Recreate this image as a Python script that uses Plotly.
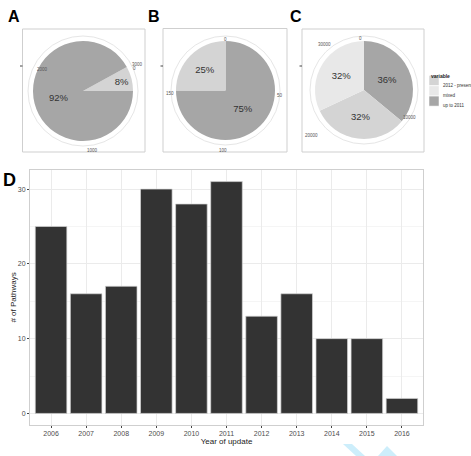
import plotly.graph_objects as go

W, H = 471, 456

# ---------------- data ----------------
pie_colors = {"up to 2011": "#a6a6a6", "2012 - present": "#d4d4d4", "mixed": "#e8e8e8"}

# panel A (percent)
a_labels = ["2012 - present", "up to 2011"]
a_values = [8, 92]
# panel B
b_labels = ["up to 2011", "2012 - present"]
b_values = [75, 25]
# panel C
c_labels = ["up to 2011", "2012 - present", "mixed"]
c_values = [36, 32, 32]

# panel D
years = ["2006", "2007", "2008", "2009", "2010", "2011", "2012", "2013", "2014", "2015", "2016"]
pathways = [25, 16, 17, 30, 28, 31, 13, 16, 10, 10, 2]

# polar tick labels around pies (text, px x, px y)
a_ticks = [("1000", 85, 146), ("2000", 35, 65), ("3000", 130, 60), ("0", 131, 64)]
b_ticks = [("0", 225, 35), ("50", 280, 91), ("100", 223, 146), ("150", 170, 89)]
c_ticks = [("0", 364, 34), ("10000", 418, 113), ("20000", 320, 131), ("30000", 333, 40)]

legend_title = "variable"
legend_items = ["2012 - present", "mixed", "up to 2011"]

FONT = "Liberation Sans, Arial, sans-serif"


def px(x):
    return x / W


def py(y):
    return 1 - y / H


fig = go.Figure()

# pies: (labels, values, center x, center y, radius, rotation)
pies = [
    (a_labels, a_values, 83, 91, 50, 61.2),
    (b_labels, b_values, 225.5, 90.5, 49.5, 0),
    (c_labels, c_values, 364, 90, 49, 0),
]
shapes = []
annotations = []
panel_boxes = [(22.5, 29, 145, 152), (163, 28.5, 287, 152), (302, 29, 424, 152)]

for (x0, y0, x1, y1) in panel_boxes:
    shapes.append(dict(type="rect", xref="paper", yref="paper",
                       x0=px(x0), x1=px(x1), y0=py(y1), y1=py(y0),
                       line=dict(color="#cfcfcf", width=1), fillcolor="white", layer="below"))
    # little radial tick
    shapes.append(dict(type="line", xref="paper", yref="paper",
                       x0=px(x0 - 2.5), x1=px(x0), y0=py(66), y1=py(66),
                       line=dict(color="#444", width=1)))

for labels, values, cx, cy, r, rot in pies:
    fig.add_trace(go.Pie(
        labels=labels, values=values, sort=False, direction="clockwise",
        rotation=rot,
        marker=dict(colors=[pie_colors[l] for l in labels], line=dict(width=0)),
        textinfo="percent", texttemplate="%{percent:.0%}",
        textposition="inside", insidetextorientation="horizontal",
        textfont=dict(size=9.5, color="#333333", family=FONT),
        domain=dict(x=[px(cx - r), px(cx + r)], y=[py(cy + r), py(cy - r)]),
        showlegend=False, hoverinfo="label+percent",
    ))
    R = r + 5
    shapes.append(dict(type="circle", xref="paper", yref="paper",
                       x0=px(cx - R), x1=px(cx + R), y0=py(cy + R), y1=py(cy - R),
                       line=dict(color="#e6e6e6", width=1), layer="below"))

for ticks in (a_ticks, b_ticks, c_ticks):
    for t, x, y in ticks:
        annotations.append(dict(text=t, x=px(x), y=py(y), xref="paper", yref="paper",
                                showarrow=False, font=dict(size=4.5, color="#555", family=FONT)))

# legend (manual)
annotations.append(dict(text="<b>" + legend_title + "</b>", x=px(429), y=py(71), xref="paper", yref="paper",
                        xanchor="left", showarrow=False, font=dict(size=5, color="#222", family=FONT)))
for i, item in enumerate(legend_items):
    yc = 80.5 + i * 10.3
    shapes.append(dict(type="rect", xref="paper", yref="paper",
                       x0=px(429), x1=px(439), y0=py(yc + 5), y1=py(yc - 5),
                       fillcolor=pie_colors[item], line=dict(color="white", width=0.5)))
    annotations.append(dict(text=item, x=px(441), y=py(yc), xref="paper", yref="paper",
                            xanchor="left", showarrow=False, font=dict(size=4.5, color="#333", family=FONT)))

# bar chart D
fig.add_trace(go.Bar(
    x=years, y=pathways, width=0.9,
    marker=dict(color="#333333", line=dict(color="#d6d6d6", width=0.7)),
    xaxis="x", yaxis="y", showlegend=False,
))

# panel letters
for letter, x, y, s in [("A", 7, 17, 16), ("B", 147, 17, 16), ("C", 289, 17, 16), ("D", 2, 180, 18)]:
    annotations.append(dict(text="<b>" + letter + "</b>", x=px(x), y=py(y), xref="paper", yref="paper",
                            xanchor="left", yanchor="middle", borderpad=0,
                            showarrow=False, font=dict(size=s, color="black", family=FONT)))

# watermark fragment
shapes.append(dict(type="path", xref="paper", yref="paper",
                   path=f"M {px(343)},{py(444)} L {px(352)},{py(444)} L {px(365)},{py(456)} L {px(356)},{py(456)} Z",
                   fillcolor="#cdeefb", line=dict(width=0), layer="below"))
shapes.append(dict(type="path", xref="paper", yref="paper",
                   path=f"M {px(378)},{py(456)} L {px(387)},{py(446)} L {px(397)},{py(456)} Z",
                   fillcolor="#cdeefb", line=dict(width=0), layer="below"))

fig.update_layout(
    width=W, height=H, margin=dict(l=0, r=0, t=0, b=0),
    paper_bgcolor="white", plot_bgcolor="white",
    font=dict(family=FONT),
    shapes=shapes, annotations=annotations,
    bargap=0.1,
    xaxis=dict(domain=[px(30), px(423)], anchor="y", type="category",
               range=[-0.6, 10.6], showgrid=True, gridcolor="#ebebeb", gridwidth=1,
               showline=True, mirror=True, linecolor="#cfcfcf", linewidth=1,
               ticks="outside", ticklen=2, tickcolor="#444", tickwidth=1,
               tickfont=dict(size=7, color="#4d4d4d", family=FONT),
               title=dict(text="Year of update", font=dict(size=8, color="#222", family=FONT), standoff=0),
               zeroline=False),
    yaxis=dict(domain=[py(425), py(170)], anchor="x",
               range=[-1.55, 32.55], tickvals=[0, 10, 20, 30],
               showgrid=True, gridcolor="#ebebeb", gridwidth=1,
               minor=dict(tickvals=[5, 15, 25], showgrid=True, gridcolor="#f5f5f5", gridwidth=0.5),
               showline=True, mirror=True, linecolor="#cfcfcf", linewidth=1,
               ticks="outside", ticklen=2, tickcolor="#444", tickwidth=1,
               tickfont=dict(size=7, color="#4d4d4d", family=FONT),
               title=dict(text="# of Pathways", font=dict(size=8, color="#222", family=FONT), standoff=0),
               zeroline=False),
)

fig.write_html("out.html")
